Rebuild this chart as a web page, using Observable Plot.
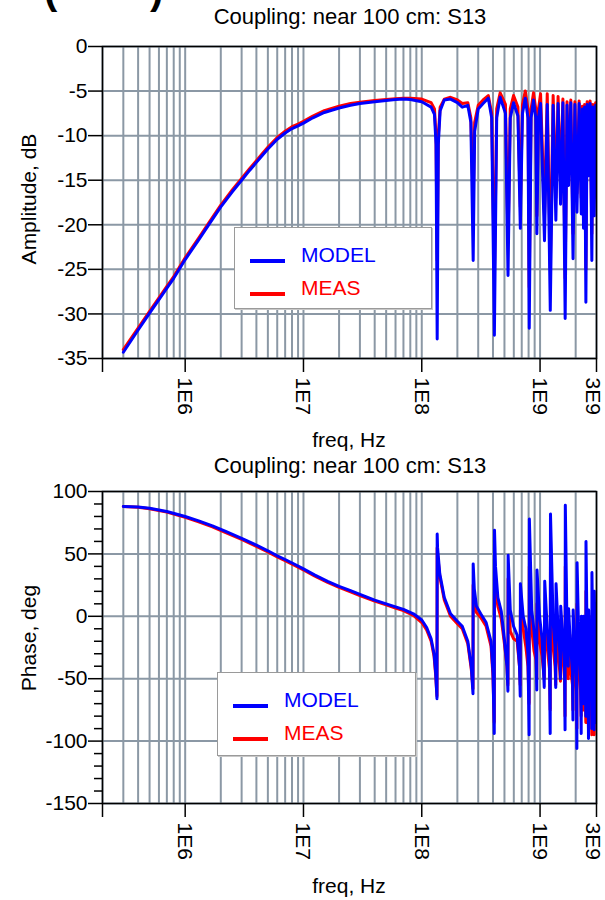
<!DOCTYPE html>
<html>
<head>
<meta charset="utf-8">
<script src="https://cdn.jsdelivr.net/npm/d3@7"></script>
<script src="https://cdn.jsdelivr.net/npm/@observablehq/plot@0.6"></script>
<style>
  html, body { margin: 0; padding: 0; background: white; }
  #page { position: relative; width: 605px; height: 900px; overflow: hidden; background: white;
          font-family: "Liberation Sans", Arial, sans-serif; color: black; }
  .plotbox { position: absolute; left: 0; }
  .txt { position: absolute; white-space: nowrap; font-size: 21px; line-height: 18px; z-index: 2; }
  .ttl { font-size: 22px; line-height: 20px; }
  .ctr { transform: translateX(-50%); }
  .ylab { position: absolute; white-space: nowrap; font-size: 21px; line-height: 24px; z-index: 2;
          transform: translate(-50%, -50%) rotate(-90deg); }
  .legend { position: absolute; background: white; border: 1px solid #9a9a9a; box-shadow: 1px 1px 0 #c8c8c8; z-index: 3; }
  .legend .sw { position: absolute; left: 15px; width: 35px; height: 4px; }
  .legend .lt { position: absolute; left: 66px; font-size: 21px; line-height: 24px; white-space: nowrap; }
  .paren { position: absolute; font-weight: bold; font-size: 40px; line-height: 40px; z-index: 2; }
</style>
</head>
<body>
<div id="page">
  <div id="plot1" class="plotbox" style="top:0px"></div>
  <div id="plot2" class="plotbox" style="top:445px"></div>
</div>
<script>
// ---------------- data ----------------
const seriesNames = ["MODEL", "MEAS"];
const seriesColors = ["#0000ff", "#ff0000"];

const xTicks = [2e5, 1e6, 1e7, 1e8, 1e9, 3e9];
const xTickLabels = ["", "1E6", "1E7", "1E8", "1E9", "3E9"];
const ampTicks = [0, -5, -10, -15, -20, -25, -30, -35];
const phaseTicks = [100, 50, 0, -50, -100, -150];

const titleText = "Coupling: near 100 cm: S13";
const xLabel = "freq, Hz";
const ampLabel = "Amplitude, dB";
const phaseLabel = "Phase, deg";

const ampFreq = [
  3e5, 4e5, 5e5, 6e5, 7e5, 8e5, 1e6, 1.3e6, 1.6e6, 2e6, 2.5e6, 3e6, 3.5e6, 4e6, 4.5e6, 5e6,
  6e6, 7e6, 8e6, 9e6, 1e7, 1.2e7, 1.5e7, 2e7, 2.5e7, 3e7, 4e7, 5e7, 6e7, 7e7, 8e7,
  1e8, 1.2e8, 1.28e8, 1.32e8, 1.35e8, 1.38e8, 1.43e8, 1.55e8, 1.75e8, 2.0e8, 2.2e8, 2.45e8,
  2.6e8, 2.72e8, 2.8e8, 3.0e8, 3.3e8, 3.65e8, 3.9e8, 4.11e8, 4.3e8, 4.6e8, 5.1e8, 5.36e8,
  5.6e8, 5.97e8, 6.5e8, 6.81e8, 7.1e8, 7.5e8, 7.9e8, 8.1e8, 8.4e8, 8.8e8, 9.2e8, 9.4e8,
  9.7e8, 1.01e9, 1.09e9, 1.15e9, 1.22e9, 1.29e9, 1.36e9, 1.42e9, 1.49e9, 1.56e9, 1.63e9,
  1.69e9, 1.74e9, 1.82e9, 1.90e9, 1.97e9, 2.05e9, 2.14e9, 2.23e9, 2.28e9, 2.33e9, 2.38e9,
  2.44e9, 2.5e9, 2.57e9, 2.65e9, 2.74e9, 2.8e9, 2.87e9, 2.95e9, 3e9
];
const ampModel = [
  -34.3, -31.8, -29.9, -28.4, -27.1, -26.0, -23.9, -21.7, -19.9, -18.0, -16.3, -15.0, -13.9, -13.0, -12.2, -11.5,
  -10.4, -9.7, -9.2, -8.9, -8.6, -8.0, -7.4, -6.9, -6.6, -6.4, -6.2, -6.05, -5.95, -5.9, -5.95,
  -6.2, -6.8, -7.6, -11, -32.8, -11, -7.2, -6.0, -5.9, -6.3, -6.8, -6.6,
  -8.5, -24.0, -9.5, -7.0, -6.4, -5.8, -8.0, -32.4, -8.0, -5.7, -7.5, -25.7,
  -8.0, -6.3, -7.8, -20.4, -7.5, -5.8, -8.0, -31.6, -8.0, -6.0, -8.0, -21.0,
  -8.0, -6.4, -21.8, -6.5, -29.6, -6.6, -19.5, -6.4, -17.7, -6.3, -30.5,
  -6.6, -15.6, -6.3, -23.8, -6.5, -18.6, -6.4, -18.8, -7.0, -20.4, -6.8,
  -28.7, -6.5, -14.5, -6.4, -24.0, -6.8, -19.0, -6.6, -7.5
];
const ampMeas = [
  -34.0, -31.6, -29.7, -28.2, -26.9, -25.8, -23.7, -21.5, -19.7, -17.8, -16.1, -14.8, -13.7, -12.8, -12.0, -11.3,
  -10.2, -9.5, -9.0, -8.7, -8.4, -7.8, -7.2, -6.7, -6.4, -6.25, -6.05, -5.95, -5.85, -5.8, -5.8,
  -5.9, -6.3, -7.0, -10, -24.0, -10, -6.8, -5.9, -5.7, -6.0, -6.4, -6.3,
  -8.0, -17.5, -8.5, -6.6, -6.0, -5.5, -7.5, -26.0, -7.0, -5.2, -6.5, -22.0,
  -7.0, -5.5, -6.8, -18.0, -6.5, -5.0, -7.0, -27.0, -7.0, -5.2, -7.0, -19.0,
  -7.0, -5.3, -19.0, -5.3, -25.0, -5.5, -17.0, -5.6, -15.5, -5.9, -26.0,
  -6.2, -14.0, -6.0, -21.0, -6.2, -16.5, -6.1, -17.0, -6.7, -18.0, -6.5,
  -25.0, -6.2, -13.5, -6.1, -21.0, -6.5, -17.0, -6.3, -7.2
];

const phaseFreq = [
  3e5, 4e5, 5e5, 7e5, 1e6, 1.3e6, 1.7e6, 2.2e6, 3e6, 4e6, 5e6, 6e6, 7e6, 8.5e6, 1e7, 1.25e7,
  1.6e7, 2e7, 2.5e7, 3e7, 4e7, 5e7, 6e7, 7e7, 8.5e7,
  1e8, 1.1e8, 1.2e8, 1.27e8, 1.31e8, 1.345e8, 1.35e8, 1.36e8, 1.42e8, 1.55e8, 1.75e8, 2.0e8, 2.2e8,
  2.45e8, 2.62e8, 2.71e8, 2.72e8, 2.78e8, 2.9e8, 3.15e8, 3.5e8, 3.85e8, 4.0e8, 4.1e8, 4.12e8,
  4.2e8, 4.4e8, 4.7e8, 5.0e8, 5.25e8, 5.35e8, 5.37e8, 5.6e8, 5.97e8, 6.4e8, 6.7e8, 6.8e8,
  6.82e8, 7.2e8, 7.6e8, 7.9e8, 8.08e8, 8.12e8, 8.5e8, 8.9e8, 9.25e8, 9.38e8, 9.42e8, 9.9e8,
  1.04e9, 1.085e9, 1.095e9, 1.15e9, 1.2e9, 1.218e9, 1.225e9, 1.29e9, 1.34e9, 1.357e9, 1.365e9,
  1.42e9, 1.47e9, 1.487e9, 1.495e9, 1.55e9, 1.61e9, 1.627e9, 1.635e9, 1.69e9, 1.73e9, 1.743e9,
  1.8e9, 1.88e9, 1.897e9, 1.905e9, 1.96e9, 2.03e9, 2.047e9, 2.055e9, 2.12e9, 2.2e9, 2.227e9,
  2.235e9, 2.3e9, 2.328e9, 2.335e9, 2.4e9, 2.437e9, 2.445e9, 2.5e9, 2.55e9, 2.567e9, 2.575e9,
  2.63e9, 2.72e9, 2.737e9, 2.745e9, 2.8e9, 2.85e9, 2.867e9, 2.875e9, 2.93e9, 2.97e9, 3e9
];
const phaseModel = [
  88, 87.5, 86.5, 84, 80, 76.5, 72.5, 68, 62.5, 57, 52.5, 48.5, 45.5, 41.5, 38, 33,
  28, 24, 20.5, 17.5, 13, 10, 7.5, 5.5, 2,
  -3, -9, -18, -30, -45, -66, 66, 55, 34, 15, 2, -4, -8,
  -20, -40, -62, 42, 22, 8, 2, -5, -20, -45, -94, 69,
  40, 15, 4, -19, -40, -60, 49, 5, -8, -15, -40, -64,
  26, 0, -10, -30, -95, 78, 5, -12, -30, -59, 37, 0,
  -18, -57, 28, -10, -35, -94, 82, -5, -25, -57, 26,
  -10, -30, -50, 8, -15, -40, -91, 89, -10, -40, 6,
  -20, -45, -83, 5, -25, -50, -106, 43, -15, -50, -94,
  0, -35, -70, 0, -40, -80, 60, -20, -50, -98, 5,
  -30, -60, -90, 35, -30, -60, -91, 20, -40, -85, 10
];
const phaseMeas = [
  88, 87.3, 86.2, 83.5, 79.3, 75.7, 71.6, 67.1, 61.6, 56.1, 51.6, 47.6, 44.6, 40.6, 37.1, 32.1,
  27.1, 23.1, 19.6, 16.6, 12.1, 9.1, 6.5, 4.5, 0.8,
  -5, -11, -20, -32, -47, -64, 55, 50, 32, 13, 0, -6, -10,
  -22, -42, -58, 25, 10, 3, -1, -8, -24, -48, -85, 35,
  20, 8, -2, -22, -40, -55, 30, -12, -18, -20, -40, -55,
  5, -10, -25, -40, -70, 40, -10, -28, -35, -50, 10, -20,
  -32, -50, 0, -25, -42, -75, 40, -25, -40, -55, 0,
  -30, -45, -52, -10, -30, -50, -80, 40, -30, -50, -20,
  -40, -55, -75, -15, -40, -60, -90, 10, -35, -60, -80,
  -25, -50, -75, -30, -55, -85, 20, -45, -65, -90, -20,
  -50, -75, -95, 0, -55, -75, -95, -10, -60, -85, -20
];

// ---------------- drawing ----------------
const gridColor = "#8b98a5";
const font = "'Liberation Sans', Arial, sans-serif";
const logGrid = d3.scaleLog().domain([2e5, 3e9]).ticks();
const nLast = xTicks.length - 1;
const labelRows = xTicks.map((f, i) => ({f, label: xTickLabels[i]}));

function rows(freq, vals) { return freq.map((f, i) => ({f, v: vals[i]})); }

function makePlot({freq, model, meas, yDomain, yTicks, minorTicks}) {
  const textOpts = {x: "f", text: "label", frameAnchor: "bottom", rotate: 90, textAnchor: "start", dy: 19, fontSize: 21};
  const marks = [
    Plot.gridX(logGrid, {stroke: gridColor, strokeOpacity: 1, strokeWidth: 2}),
    Plot.gridY(yTicks, {stroke: gridColor, strokeOpacity: 1, strokeWidth: 2}),
    Plot.line(rows(freq, meas), {x: "f", y: "v", stroke: seriesColors[1], strokeWidth: 3, clip: true}),
    Plot.line(rows(freq, model), {x: "f", y: "v", stroke: seriesColors[0], strokeWidth: 3, clip: true}),
    Plot.frame({stroke: "black", strokeWidth: 1.5}),
    Plot.axisY({ticks: yTicks, tickSize: 14, tickPadding: 1, label: null, tickFormat: d => String(d), strokeWidth: 1.5}),
    Plot.axisX({ticks: xTicks, tickSize: 14, tickFormat: () => "", label: null, strokeWidth: 1.5}),
    Plot.text(labelRows.slice(0, nLast), {...textOpts, dx: -7}),
    Plot.text(labelRows.slice(nLast), {...textOpts, dx: -11})
  ];
  if (minorTicks) {
    marks.push(Plot.axisY({ticks: minorTicks, tickSize: 8, tickFormat: () => "", label: null, strokeWidth: 1.5}));
  }
  return Plot.plot({
    width: 605, height: 420,
    marginTop: 46, marginBottom: 62, marginLeft: 102, marginRight: 9,
    x: {type: "log", domain: [2e5, 3e9]},
    y: {domain: yDomain},
    style: {fontFamily: font, fontSize: "21px", color: "black", background: "transparent", overflow: "visible"},
    marks
  });
}

document.getElementById("plot1").appendChild(makePlot({
  freq: ampFreq, model: ampModel, meas: ampMeas, yDomain: [-35, 0], yTicks: ampTicks
}));
document.getElementById("plot2").appendChild(makePlot({
  freq: phaseFreq, model: phaseModel, meas: phaseMeas, yDomain: [-150, 100], yTicks: phaseTicks,
  minorTicks: d3.range(-150, 101, 10).filter(v => v % 50 !== 0)
}));

// ---------------- text & legends ----------------
const page = document.getElementById("page");
function addDiv(cls, style, text) {
  const d = document.createElement("div");
  d.className = cls; d.setAttribute("style", style); d.textContent = text;
  page.appendChild(d); return d;
}
addDiv("paren", "left:44px;top:-30px;", "(");
addDiv("paren", "left:150px;top:-30px;", ")");
addDiv("txt ttl ctr", "left:350px;top:7px;", titleText);
addDiv("txt ctr", "left:349px;top:431px;", xLabel);
addDiv("ylab", "left:29px;top:199px;", ampLabel);
addDiv("txt ttl ctr", "left:350px;top:456px;", titleText);
addDiv("txt ctr", "left:349px;top:877px;", xLabel);
addDiv("ylab", "left:29px;top:638px;", phaseLabel);

function addLegend(left, top, w, h) {
  const box = document.createElement("div");
  box.className = "legend";
  box.setAttribute("style", `left:${left}px;top:${top}px;width:${w}px;height:${h}px;`);
  seriesNames.forEach((name, i) => {
    const sw = document.createElement("div");
    sw.className = "sw";
    sw.setAttribute("style", `top:${31 + i * 33}px;background:${seriesColors[i]};`);
    const t = document.createElement("div");
    t.className = "lt";
    t.setAttribute("style", `top:${15 + i * 33}px;color:${seriesColors[i]};`);
    t.textContent = name;
    box.appendChild(sw); box.appendChild(t);
  });
  page.appendChild(box);
}
addLegend(234, 227, 196, 80);
addLegend(217, 672, 197, 82);
</script>
</body>
</html>
